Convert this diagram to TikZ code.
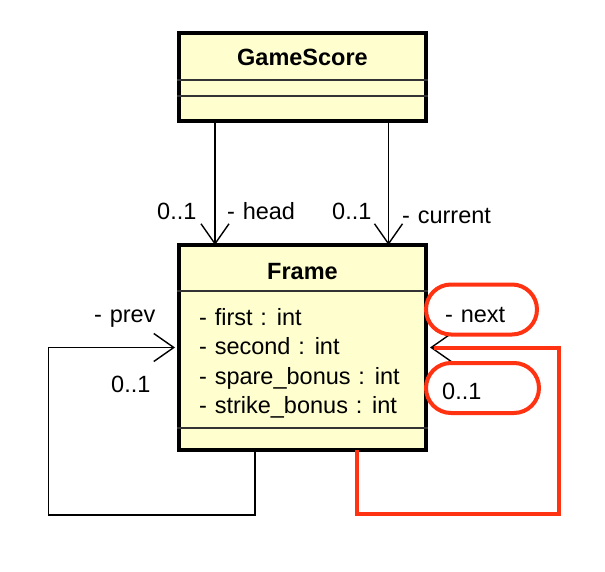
\documentclass[tikz,border=0pt]{standalone}
\usepackage{fontspec}
\setmainfont{Liberation Sans}
\usetikzlibrary{arrows.meta,calc}
\definecolor{classfill}{HTML}{FEFECE}
\definecolor{hlred}{HTML}{FF3311}
\newcommand\umlfont{\fontsize{23.5}{27}\selectfont}
\newcommand\umlwsp{\spaceskip=0.33em\relax}
\begin{document}
\begin{tikzpicture}[x=1pt,y=-1pt,
  classbox/.style={draw=black,line width=4pt,fill=classfill,inner sep=0pt},
  divider/.style={line width=1.3pt,draw=black!80},
  txt/.style={inner sep=0pt,anchor=base west,font=\umlfont},
  ttl/.style={inner sep=0pt,anchor=base,font=\umlfont\bfseries},
  assoc/.style={line width=1.4pt,-{Straight Barb[length=20pt,width=28pt,line width=1.4pt]}},
  hlline/.style={draw=hlred,line width=4pt},
  hlbox/.style={draw=hlred,line width=4pt,fill=white,rounded corners=25pt,inner sep=0pt}]
\useasboundingbox (0,0) rectangle (605,572);
% GameScore
\node[classbox,minimum width=247pt,minimum height=88pt] (gs) at (302.5,77) {};
\node[ttl] (gst) at (302.5,66) {GameScore};
\draw[divider] (gs.west |- 0,80) coordinate (gsd1l) -- (gs.east |- 0,80) coordinate (gsd1r);
\draw[divider] (gs.west |- 0,96) coordinate (gsd2l) -- (gs.east |- 0,96) coordinate (gsd2r);
% Frame
\node[classbox,minimum width=247pt,minimum height=205pt] (fr) at (302.5,347.5) {};
\node[ttl] (frt) at (302.5,279) {Frame};
\draw[divider] (fr.west |- 0,291) coordinate (frd1l) -- (fr.east |- 0,291) coordinate (frd1r);
\draw[divider] (fr.west |- 0,428) coordinate (frd2l) -- (fr.east |- 0,428) coordinate (frd2r);
\node[txt] (a1) at (199,325) {\umlwsp - first : int};
\node[txt] (a2) at (199,354.5) {\umlwsp - second : int};
\node[txt] (a3) at (199,384) {\umlwsp - spare\_bonus : int};
\node[txt] (a4) at (199,413.5) {\umlwsp - strike\_bonus : int};
% head / current
\coordinate (hx) at (215,0);
\coordinate (cx) at (388.5,0);
\draw[assoc] (gs.south -| hx) -- ([yshift=-2pt]fr.north -| hx);
\draw[assoc] (gs.south -| cx) -- ([yshift=-2pt]fr.north -| cx);
\node[txt] (hm) at (157,220) {0..1};
\node[txt] (hr) at (227,220) {\umlwsp - head};
\node[txt] (cm) at (332,220) {0..1};
\node[txt] (cr) at (402,223) {\umlwsp - current};
% prev loop
\coordinate (pbx) at (255,0);
\coordinate (pcorner) at (48.5,515);
\coordinate (py) at (0,347.5);
\draw[assoc] ([yshift=2pt]fr.south -| pbx) -- (pbx |- pcorner) -- (pcorner) -- (pcorner |- py) -- ([xshift=-2pt]fr.west |- py);
\node[txt] (pr) at (94,322) {\umlwsp - prev};
\node[txt] (pm) at (111,392) {0..1};
% next loop
\coordinate (nbx) at (356.5,0);
\coordinate (ncorner) at (559,514);
\draw[assoc] ([yshift=2pt]fr.south -| nbx) -- (nbx |- ncorner) -- (ncorner) -- (ncorner |- py) -- ([xshift=2pt]fr.east |- py);
\draw[hlline] ([yshift=2pt]fr.south -| nbx) -- (nbx |- ncorner) -- (ncorner) -- (ncorner |- py) -- ([xshift=6pt]fr.east |- py);
\node[hlbox,minimum width=111pt,minimum height=50pt] (nrb) at (481.5,309.5) {};
\node[txt] (nr) at (445,322) {\umlwsp - next};
\node[hlbox,minimum width=113pt,minimum height=50pt] (nmb) at (482.5,388) {};
\node[txt] (nm) at (442,399) {0..1};
\end{tikzpicture}
\end{document}
